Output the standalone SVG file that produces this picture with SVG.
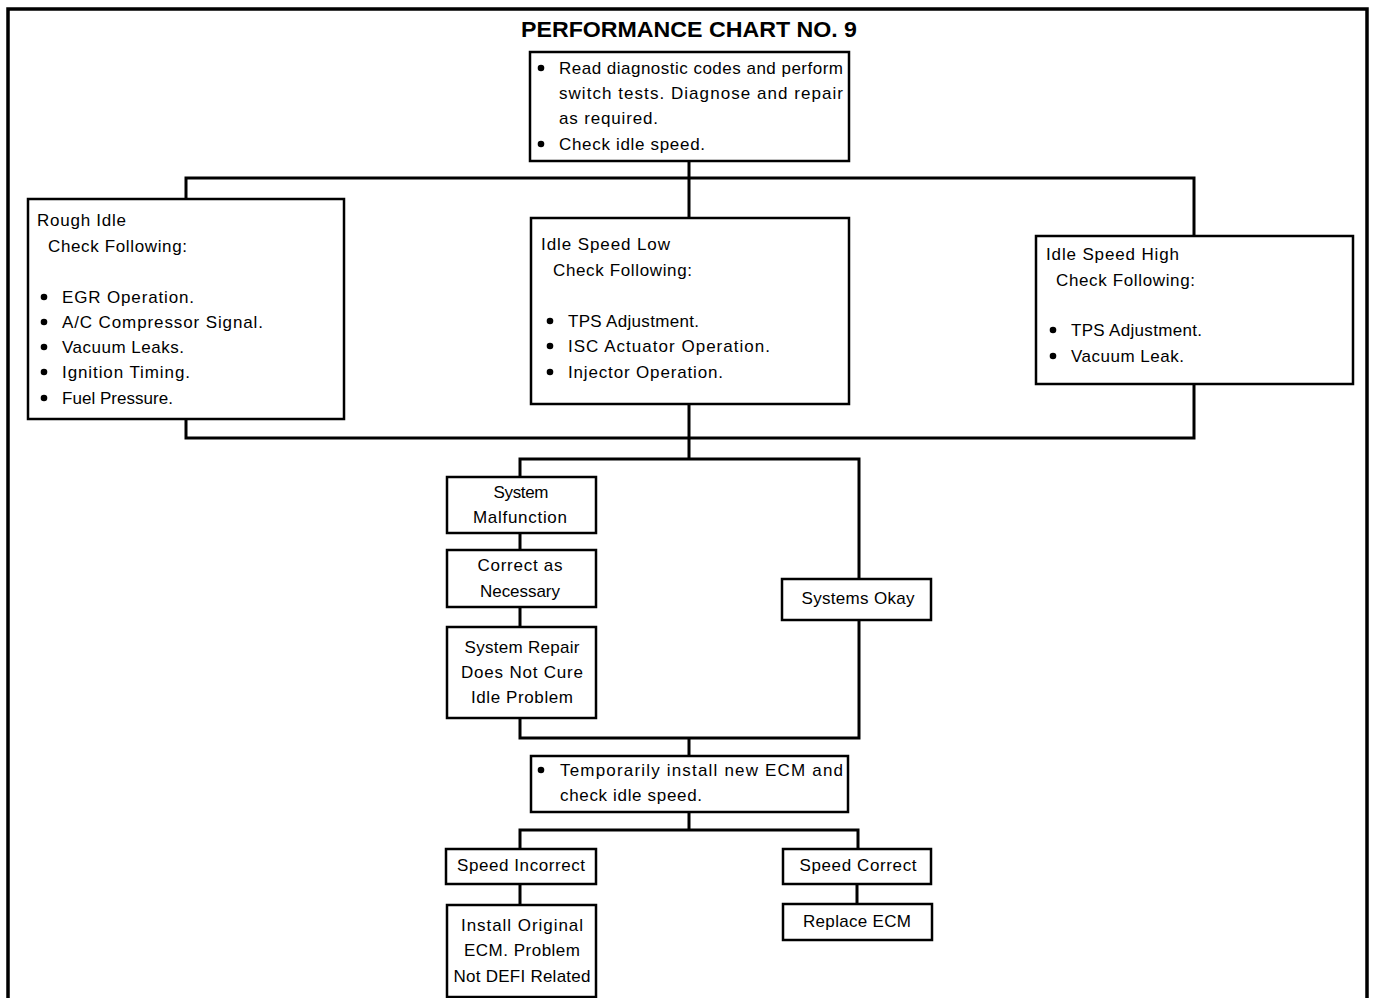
<svg xmlns="http://www.w3.org/2000/svg" width="1374" height="998" viewBox="0 0 1374 998">
  <style>
    .frame { fill: none; stroke: #000; stroke-width: 3.5; }
    .box { fill: #fff; stroke: #000; stroke-width: 2.5; }
    .wire { fill: none; stroke: #000; stroke-width: 3; stroke-linejoin: miter; }
    text { font-family: "Liberation Sans", Arial, sans-serif; font-size: 17px; fill: #000; }
    .title { font-size: 22px; font-weight: bold; }
    .c { text-anchor: middle; }
    .dot { fill: #000; }
  </style>
  <rect width="1374" height="998" fill="#fff"/>

  <!-- page border (open at the bottom) -->
  <path class="frame" d="M8,1000 V9 H1367 V1000"/>
  <text class="title c" x="689" y="37" textLength="336" lengthAdjust="spacingAndGlyphs">PERFORMANCE CHART NO. 9</text>

  <!-- connectors -->
  <g id="connectors">
    <path class="wire" d="M689,161 V178 M186,199 V178 H1194 V236 M689,178 V218"/>
    <path class="wire" d="M186,419 V438 H1194 V384 M689,404 V459"/>
    <path class="wire" d="M520,477 V459 H859 V579"/>
    <path class="wire" d="M520,533 V550 M520,607 V627"/>
    <path class="wire" d="M520,718 V738 H859 V620 M689,738 V756"/>
    <path class="wire" d="M689,812 V830 M520,849 V830 H858 V849"/>
    <path class="wire" d="M520,884 V905 M857,884 V904"/>
  </g>

  <g id="start">
    <rect class="box" x="530" y="52" width="319" height="109"/>
    <circle class="dot" cx="541" cy="68" r="3.3"/>
    <text x="559" y="74" textLength="284" lengthAdjust="spacing">Read diagnostic codes and perform</text>
    <text x="559" y="99" textLength="284" lengthAdjust="spacing">switch tests. Diagnose and repair</text>
    <text x="559" y="124" textLength="99" lengthAdjust="spacing">as required.</text>
    <circle class="dot" cx="541" cy="144" r="3.3"/>
    <text x="559" y="150" textLength="146" lengthAdjust="spacing">Check idle speed.</text>
  </g>

  <g id="rough-idle">
    <rect class="box" x="28" y="199" width="316" height="220"/>
    <text x="37" y="226" textLength="89" lengthAdjust="spacing">Rough Idle</text>
    <text x="48" y="252" textLength="139" lengthAdjust="spacing">Check Following:</text>
    <circle class="dot" cx="44" cy="297" r="3.3"/>
    <text x="62" y="303" textLength="132" lengthAdjust="spacing">EGR Operation.</text>
    <circle class="dot" cx="44" cy="322" r="3.3"/>
    <text x="62" y="328" textLength="201" lengthAdjust="spacing">A/C Compressor Signal.</text>
    <circle class="dot" cx="44" cy="347" r="3.3"/>
    <text x="62" y="353" textLength="122" lengthAdjust="spacing">Vacuum Leaks.</text>
    <circle class="dot" cx="44" cy="372" r="3.3"/>
    <text x="62" y="378" textLength="128" lengthAdjust="spacing">Ignition Timing.</text>
    <circle class="dot" cx="44" cy="398" r="3.3"/>
    <text x="62" y="404" textLength="111" lengthAdjust="spacing">Fuel Pressure.</text>
  </g>

  <g id="idle-low">
    <rect class="box" x="531" y="218" width="318" height="186"/>
    <text x="541" y="250" textLength="129" lengthAdjust="spacing">Idle Speed Low</text>
    <text x="553" y="276" textLength="139" lengthAdjust="spacing">Check Following:</text>
    <circle class="dot" cx="550" cy="321" r="3.3"/>
    <text x="568" y="327" textLength="131" lengthAdjust="spacing">TPS Adjustment.</text>
    <circle class="dot" cx="550" cy="346" r="3.3"/>
    <text x="568" y="352" textLength="202" lengthAdjust="spacing">ISC Actuator Operation.</text>
    <circle class="dot" cx="550" cy="372" r="3.3"/>
    <text x="568" y="378" textLength="155" lengthAdjust="spacing">Injector Operation.</text>
  </g>

  <g id="idle-high">
    <rect class="box" x="1036" y="236" width="317" height="148"/>
    <text x="1046" y="260" textLength="133" lengthAdjust="spacing">Idle Speed High</text>
    <text x="1056" y="286" textLength="139" lengthAdjust="spacing">Check Following:</text>
    <circle class="dot" cx="1053" cy="330" r="3.3"/>
    <text x="1071" y="336" textLength="131" lengthAdjust="spacing">TPS Adjustment.</text>
    <circle class="dot" cx="1053" cy="356" r="3.3"/>
    <text x="1071" y="362" textLength="113" lengthAdjust="spacing">Vacuum Leak.</text>
  </g>

  <g id="malfunction">
    <rect class="box" x="447" y="477" width="149" height="56"/>
    <text class="c" x="521" y="498" textLength="55" lengthAdjust="spacing">System</text>
    <text class="c" x="520" y="523" textLength="94" lengthAdjust="spacing">Malfunction</text>
  </g>

  <g id="correct">
    <rect class="box" x="447" y="550" width="149" height="57"/>
    <text class="c" x="520" y="571" textLength="85" lengthAdjust="spacing">Correct as</text>
    <text class="c" x="520" y="597" textLength="80" lengthAdjust="spacing">Necessary</text>
  </g>

  <g id="repair-fails">
    <rect class="box" x="447" y="627" width="149" height="91"/>
    <text class="c" x="522" y="653" textLength="115" lengthAdjust="spacing">System Repair</text>
    <text class="c" x="522" y="678" textLength="122" lengthAdjust="spacing">Does Not Cure</text>
    <text class="c" x="522" y="703" textLength="102" lengthAdjust="spacing">Idle Problem</text>
  </g>

  <g id="systems-okay">
    <rect class="box" x="782" y="579" width="149" height="41"/>
    <text class="c" x="858" y="604" textLength="113" lengthAdjust="spacing">Systems Okay</text>
  </g>

  <g id="new-ecm">
    <rect class="box" x="531" y="756" width="317" height="56"/>
    <circle class="dot" cx="541" cy="770" r="3.3"/>
    <text x="560" y="776" textLength="283" lengthAdjust="spacing">Temporarily install new ECM and</text>
    <text x="560" y="801" textLength="142" lengthAdjust="spacing">check idle speed.</text>
  </g>

  <g id="speed-incorrect">
    <rect class="box" x="446" y="849" width="150" height="35"/>
    <text class="c" x="521" y="871" textLength="128" lengthAdjust="spacing">Speed Incorrect</text>
  </g>

  <g id="install-original">
    <rect class="box" x="447" y="905" width="149" height="92"/>
    <text class="c" x="522" y="931" textLength="122" lengthAdjust="spacing">Install Original</text>
    <text class="c" x="522" y="956" textLength="116" lengthAdjust="spacing">ECM. Problem</text>
    <text class="c" x="522" y="982" textLength="137" lengthAdjust="spacing">Not DEFI Related</text>
  </g>

  <g id="speed-correct">
    <rect class="box" x="783" y="849" width="148" height="35"/>
    <text class="c" x="858" y="871" textLength="117" lengthAdjust="spacing">Speed Correct</text>
  </g>

  <g id="replace-ecm">
    <rect class="box" x="783" y="904" width="149" height="36"/>
    <text class="c" x="857" y="927" textLength="108" lengthAdjust="spacing">Replace ECM</text>
  </g>
</svg>
